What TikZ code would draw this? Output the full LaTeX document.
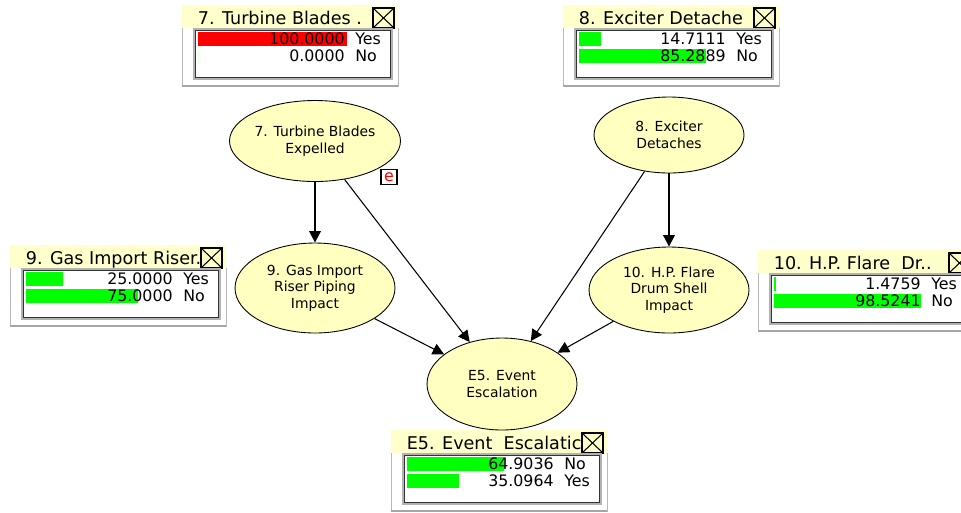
\documentclass[tikz,border=0pt]{standalone}
\usepackage{fontspec}
\setmainfont{DejaVu Sans}
\usetikzlibrary{shapes.geometric,arrows.meta}
\definecolor{kelta}{RGB}{255,255,192}
\definecolor{otsikko}{RGB}{255,255,204}
\definecolor{vihrea}{RGB}{0,255,0}
\definecolor{punainen}{RGB}{255,0,0}
\begin{document}
\begin{tikzpicture}[x=0.02cm,y=-0.02cm,
  solmu/.style={draw,ellipse,fill=kelta,line width=0.5pt,inner sep=0pt,align=center,font=\fontsize{7.9}{9.4}\selectfont},
  nuoli/.style={-{Triangle[length=6.5pt,width=6.5pt]},line width=0.6pt},
  paksu/.style={line width=1.1pt},
  teksti/.style={inner sep=0pt,font=\fontsize{9}{11}\selectfont}]
\useasboundingbox (0,0) rectangle (961,512);
\clip (0,0) rectangle (961,512);
\newcommand\mittari[6]{
\fill[white] (0,0) rectangle (216,81);
\draw[gray!55] (0.5,23) -- (0.5,81) -- (216,81) -- (216,23);
\draw[gray!70,line width=1.2pt] (0,81) -- (216,81);
\fill[otsikko] (0,0) rectangle (216,23);
\node[anchor=base west,inner sep=0pt,font=\fontsize{10}{12}\selectfont] at (15.5,19) {#1};
\draw[fill=otsikko,line width=0.6pt] (191,3) rectangle (212,23);
\draw[line width=0.6pt] (191,3) -- (212,23) (191,23) -- (212,3);
\draw[gray!60,line width=0.8pt] (12,24) rectangle (210,74);
\draw[gray!40!black,line width=0.5pt] (13.5,25.5) rectangle (208.5,72.5);
\fill[#2] (16,27) rectangle ({16+1.49*#3},41);
\fill[vihrea] (16,44) rectangle ({16+1.49*#5},58);
\node[teksti,anchor=base east] at (163,39) {#3};
\node[teksti,anchor=base west] at (173,39) {#4};
\node[teksti,anchor=base east] at (163,56) {#5};
\node[teksti,anchor=base west] at (173,56) {#6};
}
% monitorit
\begin{scope}[shift={(182,5)}]
\mittari{7. Turbine Blades .}{punainen}{100.0000}{Yes}{0.0000}{No}
\end{scope}
\begin{scope}[shift={(563,5)}]
\mittari{8. Exciter Detache}{vihrea}{14.7111}{Yes}{85.2889}{No}
\end{scope}
\begin{scope}[shift={(10,245)}]
\mittari{9. Gas Import Riser.}{vihrea}{25.0000}{Yes}{75.0000}{No}
\end{scope}
\begin{scope}[shift={(758,250)}]
\mittari{10. H.P. Flare~~Dr..}{vihrea}{1.4759}{Yes}{98.5241}{No}
\end{scope}
\begin{scope}[shift={(391,430)}]
\mittari{E5. Event~~Escalatic}{vihrea}{64.9036}{No}{35.0964}{Yes}
\end{scope}
% verkko
\node[solmu,minimum width=3.28cm,minimum height=1.62cm] (7) at (315,141) {7. Turbine Blades\\Expelled};
\node[solmu,minimum width=3.0cm,minimum height=1.52cm] (8) at (669,135) {8. Exciter\\Detaches};
\node[solmu,minimum width=3.2cm,minimum height=1.8cm] (9) at (315,288) {9. Gas Import\\Riser Piping\\Impact};
\node[solmu,minimum width=3.2cm,minimum height=1.72cm] (10) at (669,290) {10. H.P. Flare\\Drum Shell\\Impact};
\node[solmu,minimum width=3.0cm,minimum height=1.84cm] (e5) at (502,384) {E5. Event\\Escalation};
\node[draw,fill=white,text=punainen,line width=0.6pt,minimum width=0.32cm,minimum height=0.3cm,inner sep=0pt,font=\fontsize{9}{9}\selectfont] (ev) at (389,177) {e};
\path[draw,nuoli,paksu] (7) -- (9);
\path[draw,nuoli,paksu] (8) -- (10);
\path[draw,nuoli] (7) -- (e5);
\path[draw,nuoli] (8) -- (e5);
\path[draw,nuoli] (9) -- (e5);
\path[draw,nuoli] (10) -- (e5);
\end{tikzpicture}
\end{document}
